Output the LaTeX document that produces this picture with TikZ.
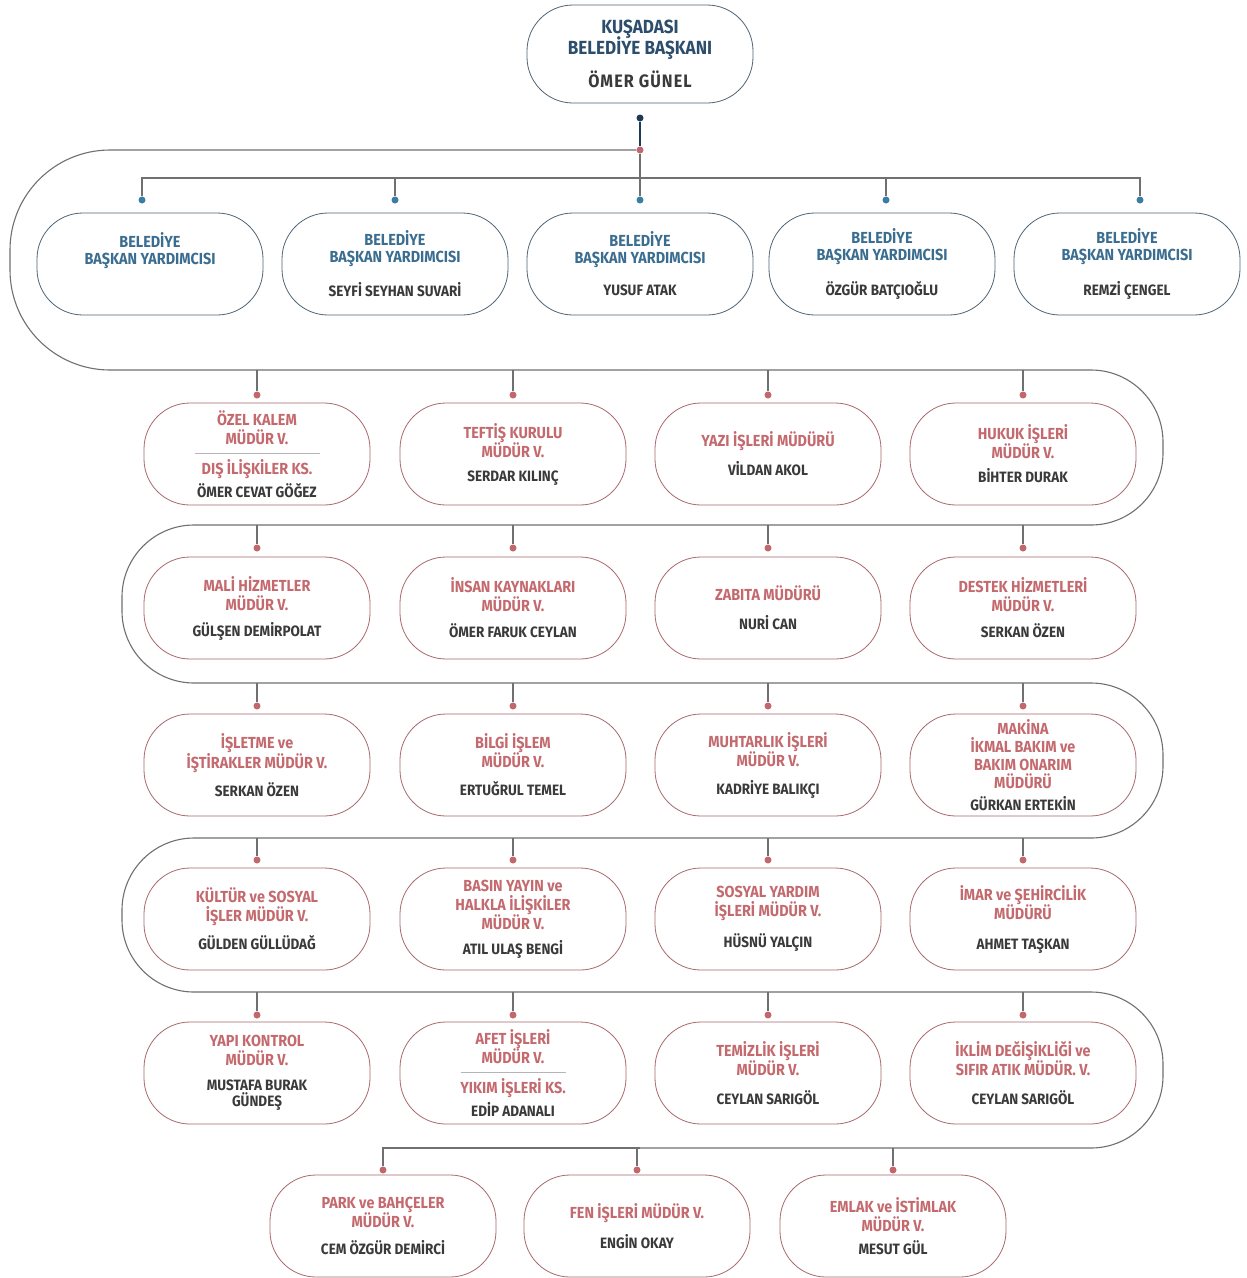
\documentclass[tikz,border=0pt]{standalone}
\usepackage{fontspec}
\setmainfont{Fira Sans}[FakeStretch=0.9]
\definecolor{tblue}{HTML}{3A6D8F}
\definecolor{ttop}{HTML}{2C4E6C}
\definecolor{tred}{HTML}{C46A6E}
\definecolor{tname}{HTML}{3A3A3A}
\definecolor{bblue}{HTML}{4F6475}
\definecolor{bred}{HTML}{A8686C}
\definecolor{wire}{HTML}{707070}
\definecolor{dblue}{HTML}{3B7EA3}
\definecolor{dred}{HTML}{C2686C}
\definecolor{dtop}{HTML}{1F3A58}
\definecolor{divc}{HTML}{B5B5B5}
\newcommand\nm[2][8pt]{\\[#1]\color{tname}\fontsize{15}{18}\selectfont #2}
\newcommand\dv[1][125pt]{\\[-9.5pt]\textcolor{divc}{\rule{#1}{0.6pt}}\\[1.5pt]}
\tikzset{
  orgbox/.style={draw=#1, line width=0.8pt, rounded corners=46pt, minimum width=226pt,
    minimum height=102pt, align=center, inner sep=0pt, fill=white},
  ttl/.style={orgbox=bred, text=tred, font=\bfseries\fontsize{16}{19}\selectfont},
  vbx/.style={orgbox=bblue, text=tblue, font=\bfseries\fontsize{16}{17}\selectfont},
  topbx/.style={orgbox=bblue, text=ttop, font=\bfseries\fontsize{19}{20}\selectfont, minimum height=98pt},
  blob/.style={circle, fill=#1, inner sep=0pt, minimum size=7pt},
  wirel/.style={draw=wire, line width=1.1pt},
}
\begin{document}
\begin{tikzpicture}[x=1pt,y=-1pt]
\fill[white] (0,0) rectangle (1247,1278);
\useasboundingbox (0,0) rectangle (1247,1278);

% levels
\coordinate (L0) at (0,150);
\coordinate (H)  at (0,178);
\coordinate (L1) at (0,370);
\coordinate (L2) at (0,525);
\coordinate (L3) at (0,683);
\coordinate (L4) at (0,838);
\coordinate (L5) at (0,992);
\coordinate (L6) at (0,1148);
\coordinate (XF) at (10,0);
\coordinate (XL) at (122,0);
\coordinate (XR) at (1163,0);

% top
\node[topbx] (top) at (640,54) {KUŞADASI\\[-3pt]BELEDİYE BAŞKANI\\[10pt]\color{tname}\fontsize{18}{18}\selectfont\addfontfeature{LetterSpace=6}ÖMER GÜNEL};
\node[blob=dtop] (t0) at (640,118) {};
\node[blob=dred] (r0) at (640,150) {};

% row 1
\node[vbx] (b1) at (150,264) {BELEDİYE\\BAŞKAN YARDIMCISI\nm[15pt]{\phantom{X}}};
\node[vbx] (b2) at (395,264) {BELEDİYE\\BAŞKAN YARDIMCISI\nm[15pt]{SEYFİ SEYHAN SUVARİ}};
\node[vbx] (b3) at (640,264) {BELEDİYE\\BAŞKAN YARDIMCISI\nm[15pt]{YUSUF ATAK}};
\node[vbx] (b4) at (882,264) {BELEDİYE\\BAŞKAN YARDIMCISI\nm[15pt]{ÖZGÜR BATÇIOĞLU}};
\node[vbx] (b5) at (1127,264) {BELEDİYE\\BAŞKAN YARDIMCISI\nm[15pt]{REMZİ ÇENGEL}};
\node[blob=dblue] (d11) at (142,200) {};
\node[blob=dblue] (d12) at (395,200) {};
\node[blob=dblue] (d13) at (640,200) {};
\node[blob=dblue] (d14) at (886,200) {};
\node[blob=dblue] (d15) at (1140,200) {};

\draw[wirel, draw=dtop] (t0) -- (r0);
\draw[wirel] (r0) -- (d13);
\draw[wirel] (d11) -- (d11|-H) -- (d15|-H) -- (d15);
\draw[wirel] (d12|-H) -- (d12);
\draw[wirel] (d14|-H) -- (d14);

% snake bus
\draw[wirel, rounded corners=100pt] (r0) -- (XF|-L0) -- (XF|-L1) -- (r0|-L1);
\draw[wirel, rounded corners=72pt] (r0|-L1) -- (XR|-L1) -- (XR|-L2) -- (XL|-L2) -- (XL|-L3)
  -- (XR|-L3) -- (XR|-L4) -- (XL|-L4) -- (XL|-L5) -- (XR|-L5) -- (XR|-L6) -- (r0|-L6);

% row 2
\node[ttl] (n21) at (257,454) {ÖZEL KALEM\\MÜDÜR V.\dv DIŞ İLİŞKİLER KS.\nm[4pt]{ÖMER CEVAT GÖĞEZ}};
\node[ttl] (n22) at (513,454) {TEFTİŞ KURULU\\MÜDÜR V.\nm[5pt]{SERDAR KILINÇ}};
\node[ttl] (n23) at (768,454) {YAZI İŞLERİ MÜDÜRÜ\nm[10pt]{VİLDAN AKOL}};
\node[ttl] (n24) at (1023,454) {HUKUK İŞLERİ\\MÜDÜR V.\nm[5pt]{BİHTER DURAK}};
% row 3
\node[ttl] (n31) at (257,608) {MALİ HİZMETLER\\MÜDÜR V.\nm[7pt]{GÜLŞEN DEMİRPOLAT}};
\node[ttl] (n32) at (513,608) {İNSAN KAYNAKLARI\\MÜDÜR V.\nm[7pt]{ÖMER FARUK CEYLAN}};
\node[ttl] (n33) at (768,608) {ZABITA MÜDÜRÜ\nm[10pt]{NURİ CAN}};
\node[ttl] (n34) at (1023,608) {DESTEK HİZMETLERİ\\MÜDÜR V.\nm[7pt]{SERKAN ÖZEN}};
% row 4
\node[ttl] (n41) at (257,765) {İŞLETME ve\\İŞTİRAKLER MÜDÜR V.\nm[9pt]{SERKAN ÖZEN}};
\node[ttl] (n42) at (513,765) {BİLGİ İŞLEM\\MÜDÜR V.\nm[9pt]{ERTUĞRUL TEMEL}};
\node[ttl] (n43) at (768,765) {MUHTARLIK İŞLERİ\\MÜDÜR V.\nm[9pt]{KADRİYE BALIKÇI}};
\node[ttl] (n44) at (1023,765) {MAKİNA\\[-1pt]İKMAL BAKIM ve\\[-1pt]BAKIM ONARIM\\[-1pt]MÜDÜRÜ\nm[3pt]{GÜRKAN ERTEKİN}};
% row 5
\node[ttl] (n51) at (257,919) {KÜLTÜR ve SOSYAL\\İŞLER MÜDÜR V.\nm[9pt]{GÜLDEN GÜLLÜDAĞ}};
\node[ttl] (n52) at (513,919) {BASIN YAYIN ve\\HALKLA İLİŞKİLER\\MÜDÜR V.\nm[6pt]{ATIL ULAŞ BENGİ}};
\node[ttl] (n53) at (768,919) {SOSYAL YARDIM\\İŞLERİ MÜDÜR V.\nm[12pt]{HÜSNÜ YALÇIN}};
\node[ttl] (n54) at (1023,919) {İMAR ve ŞEHİRCİLİK\\MÜDÜRÜ\nm[11pt]{AHMET TAŞKAN}};
% row 6
\node[ttl] (n61) at (257,1073) {YAPI KONTROL\\MÜDÜR V.\nm[6pt]{MUSTAFA BURAK}\nm[-3pt]{GÜNDEŞ}};
\node[ttl] (n62) at (513,1073) {AFET İŞLERİ\\MÜDÜR V.\dv[105pt] YIKIM İŞLERİ KS.\nm[4pt]{EDİP ADANALI}};
\node[ttl] (n63) at (768,1073) {TEMİZLİK İŞLERİ\\MÜDÜR V.\nm[10pt]{CEYLAN SARIGÖL}};
\node[ttl] (n64) at (1023,1073) {İKLİM DEĞİŞİKLİĞİ ve\\SIFIR ATIK MÜDÜR. V.\nm[10pt]{CEYLAN SARIGÖL}};
% row 7
\node[ttl] (n71) at (383,1226) {PARK ve BAHÇELER\\MÜDÜR V.\nm[8pt]{CEM ÖZGÜR DEMİRCİ}};
\node[ttl] (n72) at (637,1226) {FEN İŞLERİ MÜDÜR V.\nm[11pt]{ENGİN OKAY}};
\node[ttl] (n73) at (893,1226) {EMLAK ve İSTİMLAK\\MÜDÜR V.\nm[4pt]{MESUT GÜL}};

% dots and drops rows 2-6
\foreach \r/\yd/\L in {2/395/L1,3/548/L2,4/706/L3,5/860/L4,6/1015/L5}{
  \foreach \c/\x in {1/257,2/513,3/768,4/1023}{
    \node[blob=dred] (d\r\c) at (\x,\yd) {};
    \draw[wirel] (d\r\c|-\L) -- (d\r\c);
  }
}
% row 7 dots and drops
\node[blob=dred] (d71) at (383,1170) {};
\node[blob=dred] (d72) at (637,1170) {};
\node[blob=dred] (d73) at (893,1170) {};
\draw[wirel] (r0|-L6) -- (d71|-L6) -- (d71);
\draw[wirel] (d72|-L6) -- (d72);
\draw[wirel] (d73|-L6) -- (d73);
\end{tikzpicture}
\end{document}
